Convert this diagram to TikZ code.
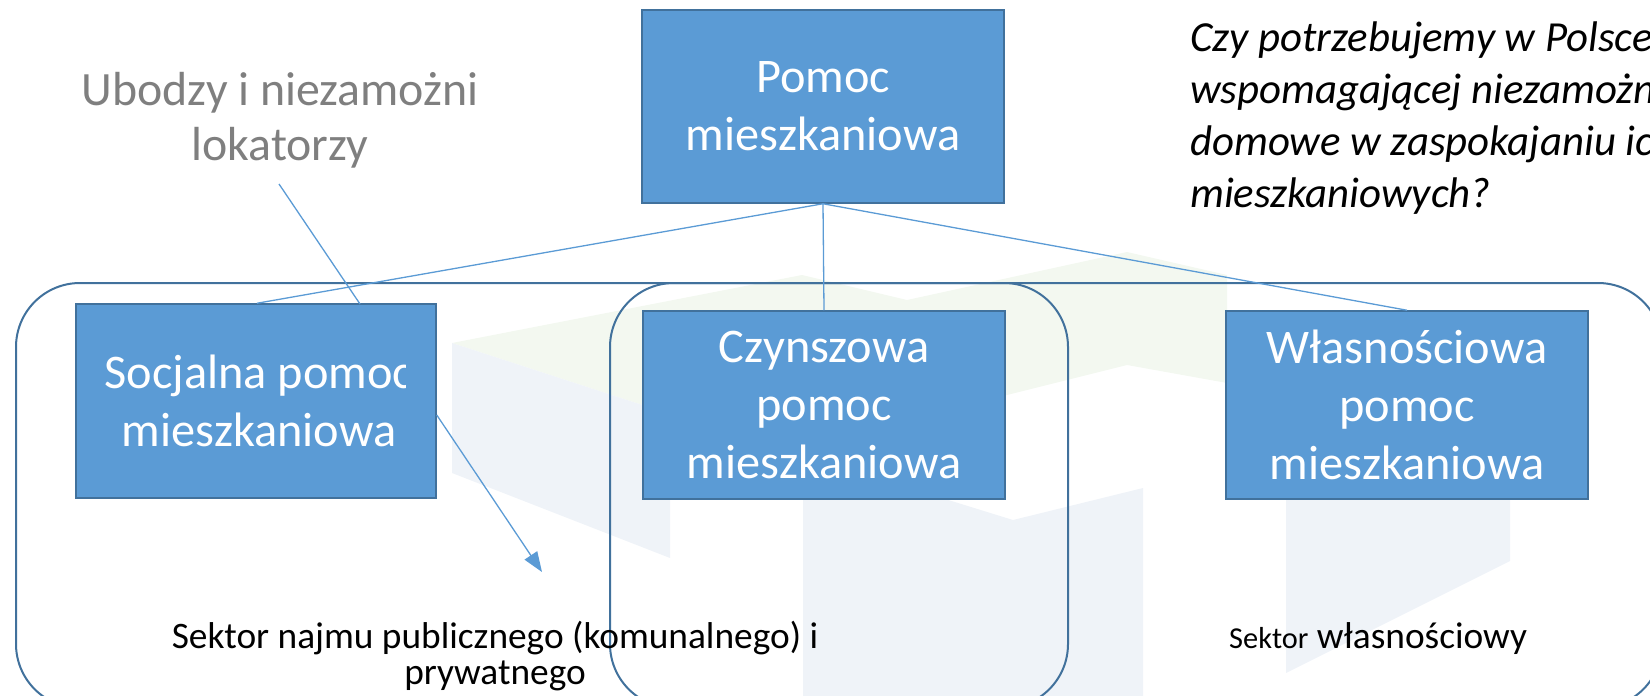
\documentclass[tikz,border=0pt]{standalone}
\usepackage{fontspec}
\setmainfont{Carlito}
\usetikzlibrary{arrows.meta}
\definecolor{boxfill}{HTML}{5B9BD5}
\definecolor{boxline}{HTML}{41719C}
\definecolor{frameline}{HTML}{41719C}
\definecolor{conn}{HTML}{5B9BD5}
\definecolor{wmgrey}{HTML}{EFF3F8}
\definecolor{wmtop}{HTML}{F3F8F0}
\definecolor{greytext}{HTML}{7F7F7F}
\tikzset{
  bluebox/.style={draw=boxline, fill=boxfill, line width=1.5bp, text=white,
    align=center, inner sep=0pt, font=\fontsize{48.5}{58}\selectfont},
  boxtext/.style={text=white, align=center, inner sep=0pt, font=\fontsize{48.5}{58}\selectfont},
  frame/.style={draw=frameline, line width=2bp, rounded corners=64bp},
  connector/.style={draw=conn, line width=1.3bp},
  wm/.style={fill=wmgrey, draw=none},
  wmt/.style={fill=wmtop, draw=none}
}
\begin{document}
\begin{tikzpicture}[x=1bp,y=-1bp]
\useasboundingbox (0,0) rectangle (1650,696);
% faint watermark
\fill[wmt] (452,343) -- (802,275) -- (907,300) -- (1127,252) -- (1227,275) -- (1227,383) -- (1127,365) -- (1007,395) -- (803,455) -- (670,414) -- cycle;
\fill[wm] (452,343) -- (670,414) -- (670,558) -- (452,473) -- cycle;
\fill[wm] (803,455) -- (1013,520) -- (1143,488) -- (1143,696) -- (803,696) -- cycle;
\fill[wm] (1286,499) -- (1510,499) -- (1510,561) -- (1286,673) -- cycle;
% frames
\draw[frame] (16,283) rectangle (1662,708);
\draw[frame] (610,283) rectangle (1068,708);
% boxes
\node[bluebox, minimum width=362bp, minimum height=193bp] (top) at (823,106.5) {Pomoc\\mieszkaniowa};
\node[bluebox, minimum width=360bp, minimum height=194bp] (soc) at (256,401) {};
\begin{scope}
  \clip (soc.north west) rectangle (405,498);
  \node[boxtext] (soct) at ([xshift=3bp]soc.center) {Socjalna pomoc\\mieszkaniowa};
\end{scope}
\node[bluebox, minimum width=362bp, minimum height=188bp] (czy) at (824,405) {Czynszowa\\pomoc\\mieszkaniowa};
\node[bluebox, minimum width=362bp, minimum height=188bp] (wlas) at (1407,405) {Własnościowa\\pomoc\\mieszkaniowa};
% texts
\node[text=greytext, align=center, inner sep=0pt, font=\fontsize{48}{55}\selectfont] (ubo) at (280,120) {Ubodzy i niezamożni\\lokatorzy};
\node[align=center, inner sep=0pt, font=\fontsize{37.5}{36}\selectfont] (sek1) at (495,656) {Sektor najmu publicznego (komunalnego) i\\prywatnego};
\node[anchor=west, inner sep=0pt, font=\fontsize{37.5}{40}\selectfont] (sek2) at (1229,639) {{\fontsize{30.5}{36}\selectfont Sektor} własnościowy};
\node[anchor=west, align=left, inner sep=0pt, font=\itshape\fontsize{43}{52}\selectfont] (q) at (1190,118) {Czy potrzebujemy w Polsce\\wspomagającej niezamożne\\domowe w zaspokajaniu ich\\mieszkaniowych?};
% connectors
\coordinate (u1) at (279,184);
\coordinate (u2) at (360,304);
\coordinate (arrend) at (542,572);
\draw[connector] (top.south) -- ([xshift=1bp]soc.north);
\draw[connector] (top.south) -- (czy.north);
\draw[connector] (top.south) -- (wlas.north);
\draw[connector] (u1) -- (u2);
\draw[connector, -{Triangle[length=20bp,width=15bp]}] ([yshift=-14bp]soc.east) -- (arrend);
\end{tikzpicture}
\end{document}
